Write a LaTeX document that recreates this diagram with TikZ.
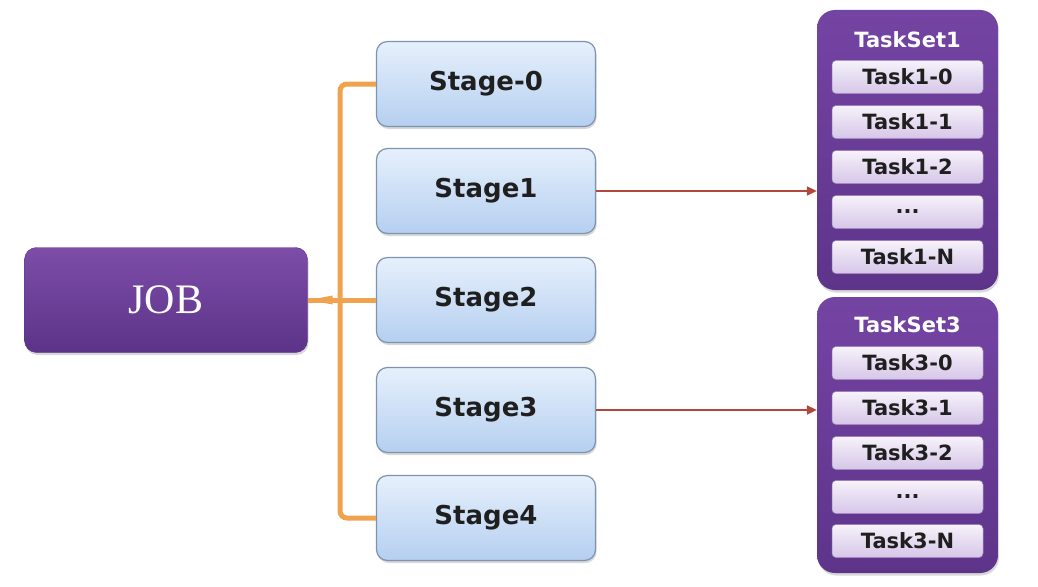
\documentclass[tikz,border=0pt]{standalone}
\usepackage{fontspec}
\setmainfont{DejaVu Sans}
\newfontfamily\jobfont{Liberation Serif}
\usetikzlibrary{arrows.meta,shadows}
\definecolor{jobtop}{HTML}{7D4DA8}
\definecolor{jobbot}{HTML}{5C3388}
\definecolor{stagetop}{HTML}{E6F0FC}
\definecolor{stagebot}{HTML}{B5CFF0}
\definecolor{stageline}{HTML}{7D93B0}
\definecolor{settop}{HTML}{7444A3}
\definecolor{setbot}{HTML}{5E348A}
\definecolor{tasktop}{HTML}{F6F2FA}
\definecolor{taskbot}{HTML}{D5C6E8}
\definecolor{orangeline}{HTML}{F0A24E}
\definecolor{redline}{HTML}{B2483C}
\tikzset{
  shade/.style={drop shadow={opacity=0.3,shadow xshift=1pt,shadow yshift=-2.5pt}},
  jobbox/.style={shade,rounded corners=12pt,top color=jobtop,bottom color=jobbot,draw=jobbot,
    minimum width=283pt,minimum height=105pt,text=white,font=\jobfont\fontsize{42}{42}\selectfont},
  stagebox/.style={shade,rounded corners=11pt,top color=stagetop,bottom color=stagebot,draw=stageline,line width=1.2pt,
    minimum width=219pt,minimum height=85pt,font=\bfseries\fontsize{26}{26}\selectfont,text=black!88},
  setbox/.style={shade,rounded corners=18pt,top color=settop,bottom color=setbot,draw=none},
  settitle/.style={text=white,font=\bfseries\fontsize{21}{21}\selectfont},
  taskbox/.style={rounded corners=4pt,top color=tasktop,bottom color=taskbot,draw=setbot!60,line width=0.5pt,
    minimum width=151pt,minimum height=33pt,font=\bfseries\fontsize{21}{21}\selectfont,text=black!88},
  trunk/.style={draw=orangeline,line width=5pt,rounded corners=7pt},
  redarrow/.style={draw=redline,line width=2pt,-{Triangle[length=10pt,width=9pt]}}
}
\begin{document}
\begin{tikzpicture}[x=1pt,y=-1pt]
\useasboundingbox[fill=white] (0,0) rectangle (1038,586);
\coordinate (tk) at (340,300);
% nodes
\node[jobbox] (job) at (166,300) {JOB};
\node[stagebox] (s0) at (486,84) {Stage-0};
\node[stagebox] (s1) at (486,191) {Stage1};
\node[stagebox] (s2) at (486,300) {Stage2};
\node[stagebox] (s3) at (486,410) {Stage3};
\node[stagebox] (s4) at (486,518) {Stage4};
% task sets
\node[setbox,minimum width=181pt,minimum height=280pt] (ts1) at (907.5,150) {};
\node[settitle] (t1title) at (907.5,40) {TaskSet1};
\node[taskbox] (t10) at (907.5,77) {Task1-0};
\node[taskbox] (t11) at (907.5,122) {Task1-1};
\node[taskbox] (t12) at (907.5,167) {Task1-2};
\node[taskbox] (t1d) at (907.5,212) {...};
\node[taskbox] (t1n) at (907.5,257) {Task1-N};
\node[setbox,minimum width=181pt,minimum height=276pt] (ts3) at (907.5,435) {};
\node[settitle] (t3title) at (907.5,325) {TaskSet3};
\node[taskbox] (t30) at (907.5,363) {Task3-0};
\node[taskbox] (t31) at (907.5,408) {Task3-1};
\node[taskbox] (t32) at (907.5,453) {Task3-2};
\node[taskbox] (t3d) at (907.5,497) {...};
\node[taskbox] (t3n) at (907.5,541) {Task3-N};
% orange tree
\draw[trunk] (s0.west) -| (tk) |- (s4.west);
\draw[draw=orangeline,line width=5pt] (s2.west) -- (job.east);
\fill[orangeline] (job.east) ++(1,0) -- ++(24,-4.5) -- ++(0,9) -- cycle;
% red arrows
\draw[redarrow] (s1.east) -- (ts1.west |- s1.east);
\draw[redarrow] (s3.east) -- (ts3.west |- s3.east);
\end{tikzpicture}
\end{document}
